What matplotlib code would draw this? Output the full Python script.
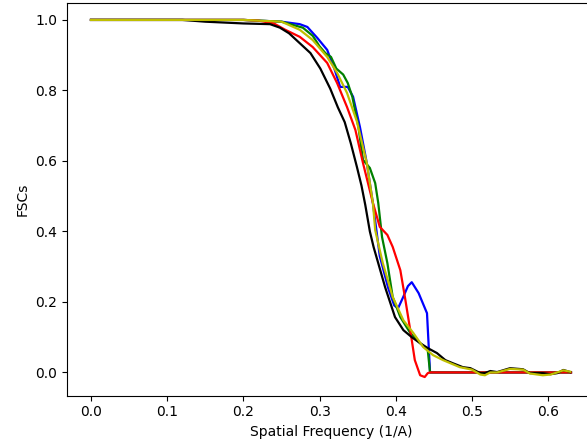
import numpy as np
from matplotlib import pyplot as plt

# curves (x in 1/A, y = FSC)
blue_x = [0, 0.10, 0.20, 0.25, 0.274, 0.284, 0.297, 0.310, 0.320, 0.327, 0.337, 0.344,
          0.353, 0.362, 0.370, 0.379, 0.390, 0.398, 0.403, 0.410, 0.416, 0.421, 0.430,
          0.441, 0.445, 0.63]
blue_y = [1.0, 1.0, 1.0, 0.995, 0.988, 0.98, 0.949, 0.915, 0.858, 0.81, 0.81, 0.782,
          0.696, 0.594, 0.48, 0.33, 0.24, 0.19, 0.182, 0.215, 0.245, 0.256, 0.225,
          0.168, 0.0, 0.0]

green_x = [0, 0.10, 0.20, 0.25, 0.278, 0.291, 0.300, 0.308, 0.315, 0.322, 0.331, 0.337,
           0.343, 0.351, 0.357, 0.366, 0.373, 0.377, 0.382, 0.389, 0.396, 0.406, 0.419,
           0.432, 0.442, 0.445, 0.63]
green_y = [1.0, 1.0, 1.0, 0.995, 0.978, 0.955, 0.925, 0.905, 0.895, 0.862, 0.845, 0.821,
           0.782, 0.696, 0.603, 0.58, 0.537, 0.481, 0.384, 0.31, 0.214, 0.157, 0.112,
           0.083, 0.063, 0.0, 0.0]

red_x = [0, 0.10, 0.20, 0.22, 0.24, 0.255, 0.274, 0.291, 0.310, 0.323, 0.336, 0.347,
         0.357, 0.370, 0.379, 0.389, 0.396, 0.406, 0.412, 0.419, 0.425, 0.432, 0.438,
         0.442, 0.445, 0.63]
red_y = [1.0, 1.0, 1.0, 0.998, 0.99, 0.972, 0.952, 0.923, 0.878, 0.821, 0.753, 0.688,
         0.594, 0.481, 0.413, 0.39, 0.356, 0.29, 0.214, 0.12, 0.035, -0.008, -0.013,
         -0.002, 0.0, 0.0]

black_x = [0, 0.12, 0.15, 0.20, 0.235, 0.248, 0.260, 0.270, 0.288, 0.301, 0.314, 0.324,
           0.333, 0.341, 0.349, 0.355, 0.360, 0.366, 0.371, 0.377, 0.386, 0.399, 0.410,
           0.421, 0.432, 0.442, 0.454, 0.465, 0.475, 0.488, 0.498, 0.511, 0.517, 0.524,
           0.533, 0.550, 0.567, 0.576, 0.593, 0.603, 0.612, 0.620, 0.629]
black_y = [1.0, 1.0, 0.995, 0.99, 0.988, 0.978, 0.962, 0.942, 0.906, 0.862, 0.805, 0.752,
           0.71, 0.65, 0.583, 0.53, 0.475, 0.40, 0.355, 0.31, 0.242, 0.157, 0.12, 0.10,
           0.083, 0.069, 0.055, 0.035, 0.026, 0.015, 0.012, -0.002, -0.002, 0.004, 0.001,
           0.012, 0.009, -0.002, -0.002, -0.005, -0.002, 0.007, 0.001]

yellow_x = [0, 0.10, 0.20, 0.25, 0.274, 0.291, 0.310, 0.323, 0.336, 0.349, 0.362, 0.370,
            0.373, 0.379, 0.383, 0.396, 0.410, 0.423, 0.436, 0.449, 0.462, 0.484, 0.500,
            0.511, 0.517, 0.524, 0.533, 0.550, 0.567, 0.576, 0.593, 0.603, 0.612, 0.620,
            0.629]
yellow_y = [1.0, 1.0, 1.0, 0.995, 0.972, 0.943, 0.895, 0.85, 0.793, 0.712, 0.594, 0.481,
            0.404, 0.347, 0.31, 0.214, 0.148, 0.112, 0.072, 0.049, 0.035, 0.015, 0.008,
            -0.006, -0.008, 0.0, 0.0, 0.01, 0.008, -0.003, -0.008, -0.006, 0.0, 0.006,
            0.002]

fig = plt.figure(figsize=(5.87, 4.46), dpi=100)
ax = fig.add_axes([67 / 587, 50.3 / 446, 528 / 587, 392.7 / 446])

for xs, ys, c in zip([blue_x, green_x, red_x, black_x, yellow_x],
                     [blue_y, green_y, red_y, black_y, yellow_y], "bgrky"):
    ax.plot(xs, ys, c=c, lw=1.6)

ax.set_xlim(-0.0315, 0.6615)
ax.set_ylim(-0.066, 1.048)
ax.set_xlabel("Spatial Frequency (1/A)")
ax.set_ylabel("FSCs")

fig.savefig("out.png", dpi=100)
